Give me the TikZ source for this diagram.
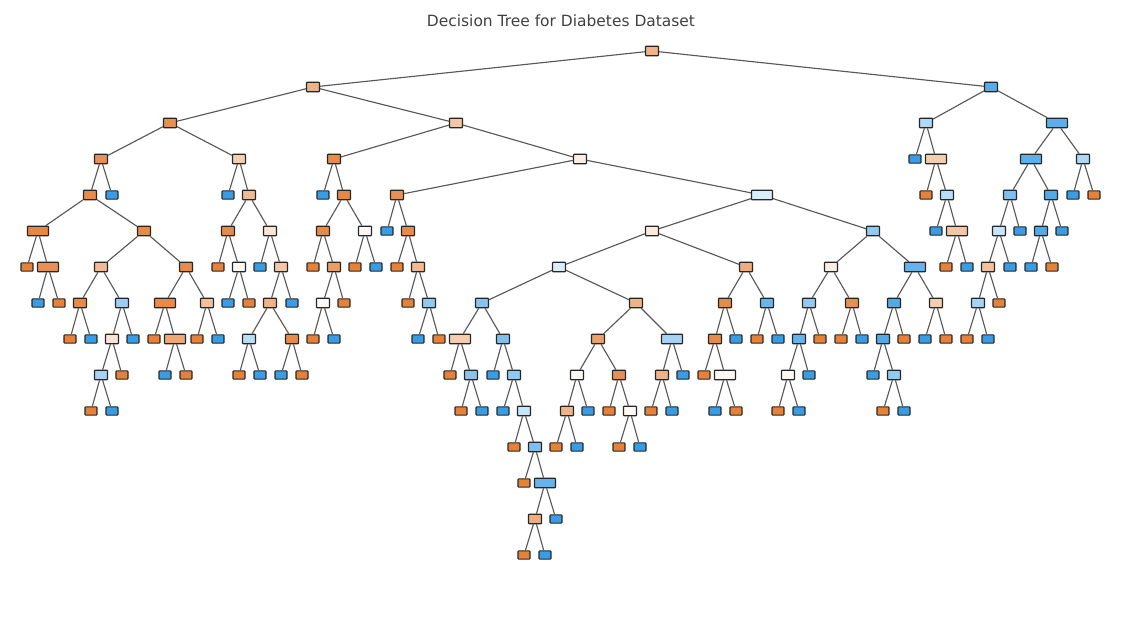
\documentclass[tikz,border=0pt]{standalone}
\usepackage{fontspec}
\usepackage{tikz}
\newfontfamily\titlefont{DejaVu Sans}
\definecolor{cls0}{HTML}{E58139}
\definecolor{cls1}{HTML}{399DE5}

\begin{document}
\begin{tikzpicture}[x=0.02cm, y=-0.02cm,
  box/.style={rectangle, draw=black!85, line width=0.65pt, rounded corners=0.4pt, inner sep=0pt, minimum width=7.4pt, minimum height=5.4pt},
  leafbox/.style={box, minimum width=6.8pt, minimum height=4.7pt},
  widebox/.style={box, minimum width=12pt},
  branch/.style={draw=black!65, line width=0.65pt}]
\useasboundingbox (0,0) rectangle (1134,640);
%\draw (0,0) rectangle (1134,640);

\node (title) [font=\titlefont\fontsize{8.8}{10}\selectfont, text=black!75] at (561,21) {Decision Tree for Diabetes Dataset};

% root and first split
\node (root) [box, fill=cls0!60] at (652,51) {};
\node (l) [box, fill=cls0!60] at (313,87) {};
\node (r) [box, fill=cls1!85] at (991,87) {};

% left part
\node (ll) [box, fill=cls0!88] at (170,123) {};
\node (lr) [box, fill=cls0!45] at (456,123) {};

\node (lll) [box, fill=cls0!88] at (101,159) {};
\node (llr) [box, fill=cls0!40] at (239,159) {};
\node (llll) [box, fill=cls0!92] at (90,195) {};
\node (lllr) [leafbox, fill=cls1] at (112,195) {};
\node (lllll) [widebox, fill=cls0!95] at (38,231) {};
\node (llllr) [box, fill=cls0!92] at (144,231) {};
\node (llllll) [leafbox, fill=cls0] at (27,267) {};
\node (lllllr) [widebox, fill=cls0!88] at (48,267) {};
\node (lllllrl) [leafbox, fill=cls1] at (38,303) {};
\node (lllllrr) [leafbox, fill=cls0] at (59,303) {};
\node (llllrl) [box, fill=cls0!55] at (101,267) {};
\node (llllrr) [box, fill=cls0!92] at (186,267) {};
\node (llllrll) [box, fill=cls0!92] at (80,303) {};
\node (llllrlr) [box, fill=cls1!50] at (122,303) {};
\node (llllrlll) [leafbox, fill=cls0] at (70,339) {};
\node (llllrllr) [leafbox, fill=cls1] at (91,339) {};
\node (llllrlrl) [box, fill=cls0!22] at (112,339) {};
\node (llllrlrr) [leafbox, fill=cls1] at (133,339) {};
\node (llllrlrll) [box, fill=cls1!45] at (101,375) {};
\node (llllrlrlr) [leafbox, fill=cls0] at (122,375) {};
\node (llllrlrlll) [leafbox, fill=cls0] at (91,411) {};
\node (llllrlrllr) [leafbox, fill=cls1] at (112,411) {};
\node (llllrrl) [widebox, fill=cls0!92] at (165,303) {};
\node (llllrrr) [box, fill=cls0!50] at (207,303) {};
\node (llllrrll) [leafbox, fill=cls0] at (154,339) {};
\node (llllrrlr) [widebox, fill=cls0!70] at (175,339) {};
\node (llllrrlrl) [leafbox, fill=cls1] at (165,375) {};
\node (llllrrlrr) [leafbox, fill=cls0] at (186,375) {};
\node (llllrrrl) [leafbox, fill=cls0] at (197,339) {};
\node (llllrrrr) [leafbox, fill=cls1] at (218,339) {};

\node (llrl) [leafbox, fill=cls1] at (228,195) {};
\node (llrr) [box, fill=cls0!55] at (249,195) {};
\node (llrrl) [box, fill=cls0!92] at (228,231) {};
\node (llrrr) [box, fill=cls0!22] at (270,231) {};
\node (llrrll) [leafbox, fill=cls0] at (218,267) {};
\node (llrrlr) [box, fill=cls0!5] at (239,267) {};
\node (llrrlrl) [leafbox, fill=cls1] at (228,303) {};
\node (llrrlrr) [leafbox, fill=cls0] at (249,303) {};
\node (llrrrl) [leafbox, fill=cls1] at (260,267) {};
\node (llrrrr) [box, fill=cls0!45] at (281,267) {};
\node (llrrrrl) [box, fill=cls0!60] at (270,303) {};
\node (llrrrrr) [leafbox, fill=cls1] at (292,303) {};
\node (llrrrrll) [box, fill=cls1!35] at (249,339) {};
\node (llrrrrlr) [box, fill=cls0!92] at (292,339) {};
\node (llrrrrlll) [leafbox, fill=cls0] at (239,375) {};
\node (llrrrrllr) [leafbox, fill=cls1] at (260,375) {};
\node (llrrrrlrl) [leafbox, fill=cls1] at (281,375) {};
\node (llrrrrlrr) [leafbox, fill=cls0] at (302,375) {};

\node (lrl) [box, fill=cls0!92] at (334,159) {};
\node (lrr) [box, fill=cls0!14] at (580,159) {};
\node (lrll) [leafbox, fill=cls1] at (323,195) {};
\node (lrlr) [box, fill=cls0!95] at (344,195) {};
\node (lrlrl) [box, fill=cls0!92] at (323,231) {};
\node (lrlrr) [box, fill=cls0!5] at (365,231) {};
\node (lrlrll) [leafbox, fill=cls0] at (313,267) {};
\node (lrlrlr) [box, fill=cls0!78] at (334,267) {};
\node (lrlrlrl) [box, fill=cls0!5] at (323,303) {};
\node (lrlrlrr) [leafbox, fill=cls0] at (344,303) {};
\node (lrlrlrll) [leafbox, fill=cls0] at (313,339) {};
\node (lrlrlrlr) [leafbox, fill=cls1] at (334,339) {};
\node (lrlrrl) [leafbox, fill=cls0] at (355,267) {};
\node (lrlrrr) [leafbox, fill=cls1] at (376,267) {};

\node (lrrl) [box, fill=cls0!88] at (397,195) {};
\node (lrrr) [widebox, fill=cls1!18] at (762,195) {};
\node (lrrll) [leafbox, fill=cls1] at (387,231) {};
\node (lrrlr) [box, fill=cls0!92] at (408,231) {};
\node (lrrlrl) [leafbox, fill=cls0] at (397,267) {};
\node (lrrlrr) [box, fill=cls0!55] at (418,267) {};
\node (lrrlrrl) [leafbox, fill=cls0] at (408,303) {};
\node (lrrlrrr) [box, fill=cls1!55] at (429,303) {};
\node (lrrlrrrl) [leafbox, fill=cls1] at (418,339) {};
\node (lrrlrrrr) [leafbox, fill=cls0] at (439,339) {};

% middle part
\node (lrrrl) [box, fill=cls0!17] at (652,231) {};
\node (lrrrr) [box, fill=cls1!55] at (873,231) {};
\node (lrrrll) [box, fill=cls1!18] at (559,267) {};
\node (lrrrlr) [box, fill=cls0!65] at (746,267) {};
\node (lrrrlll) [box, fill=cls1!60] at (482,303) {};
\node (lrrrllr) [box, fill=cls0!60] at (636,303) {};
\node (lrrrllll) [widebox, fill=cls0!40] at (460,339) {};
\node (lrrrlllr) [box, fill=cls1!65] at (503,339) {};
\node (lrrrlllll) [leafbox, fill=cls0] at (450,375) {};
\node (lrrrllllr) [box, fill=cls1!60] at (471,375) {};
\node (lrrrllllrl) [leafbox, fill=cls0] at (461,411) {};
\node (lrrrllllrr) [leafbox, fill=cls1] at (482,411) {};
\node (lrrrlllrl) [leafbox, fill=cls1] at (493,375) {};
\node (lrrrlllrr) [box, fill=cls1!55] at (514,375) {};
\node (lrrrlllrrl) [leafbox, fill=cls1] at (503,411) {};
\node (lrrrlllrrr) [box, fill=cls1!28] at (524,411) {};
\node (lrrrlllrrrl) [leafbox, fill=cls0] at (514,447) {};
\node (lrrrlllrrrr) [box, fill=cls1!65] at (535,447) {};
\node (lrrrlllrrrrl) [leafbox, fill=cls0] at (524,483) {};
\node (lrrrlllrrrrr) [widebox, fill=cls1!78] at (545,483) {};
\node (lrrrlllrrrrrl) [box, fill=cls0!65] at (535,519) {};
\node (lrrrlllrrrrrr) [leafbox, fill=cls1] at (556,519) {};
\node (lrrrlllrrrrrll) [leafbox, fill=cls0] at (524,555) {};
\node (lrrrlllrrrrrlr) [leafbox, fill=cls1] at (545,555) {};

\node (lrrrllrl) [box, fill=cls0!75] at (598,339) {};
\node (lrrrllrr) [widebox, fill=cls1!45] at (672,339) {};
\node (lrrrllrll) [box, fill=cls0!5] at (577,375) {};
\node (lrrrllrlr) [box, fill=cls0!88] at (619,375) {};
\node (lrrrllrlll) [box, fill=cls0!60] at (567,411) {};
\node (lrrrllrllr) [leafbox, fill=cls1] at (588,411) {};
\node (lrrrllrllll) [leafbox, fill=cls0] at (556,447) {};
\node (lrrrllrlllr) [leafbox, fill=cls1] at (577,447) {};
\node (lrrrllrlrl) [leafbox, fill=cls0] at (609,411) {};
\node (lrrrllrlrr) [box, fill=cls0!5] at (630,411) {};
\node (lrrrllrlrrl) [leafbox, fill=cls0] at (619,447) {};
\node (lrrrllrlrrr) [leafbox, fill=cls1] at (640,447) {};
\node (lrrrllrrl) [box, fill=cls0!60] at (662,375) {};
\node (lrrrllrrr) [leafbox, fill=cls1] at (683,375) {};
\node (lrrrllrrll) [leafbox, fill=cls0] at (651,411) {};
\node (lrrrllrrlr) [leafbox, fill=cls1] at (672,411) {};

\node (lrrrlrl) [box, fill=cls0!92] at (725,303) {};
\node (lrrrlrr) [box, fill=cls1!75] at (767,303) {};
\node (lrrrlrll) [box, fill=cls0!92] at (715,339) {};
\node (lrrrlrlr) [leafbox, fill=cls1] at (736,339) {};
\node (lrrrlrlll) [leafbox, fill=cls0] at (704,375) {};
\node (lrrrlrllr) [widebox, fill=cls0!5] at (725,375) {};
\node (lrrrlrllrl) [leafbox, fill=cls1] at (715,411) {};
\node (lrrrlrllrr) [leafbox, fill=cls0] at (736,411) {};
\node (lrrrlrrl) [leafbox, fill=cls0] at (757,339) {};
\node (lrrrlrrr) [leafbox, fill=cls1] at (778,339) {};

\node (lrrrrl) [box, fill=cls0!14] at (831,267) {};
\node (lrrrrr) [widebox, fill=cls1!78] at (915,267) {};
\node (lrrrrll) [box, fill=cls1!55] at (809,303) {};
\node (lrrrrlr) [box, fill=cls0!88] at (852,303) {};
\node (lrrrrlll) [box, fill=cls1!78] at (799,339) {};
\node (lrrrrllr) [leafbox, fill=cls0] at (820,339) {};
\node (lrrrrllll) [box, fill=cls0!5] at (788,375) {};
\node (lrrrrlllr) [leafbox, fill=cls1] at (809,375) {};
\node (lrrrrlllll) [leafbox, fill=cls0] at (778,411) {};
\node (lrrrrllllr) [leafbox, fill=cls1] at (799,411) {};
\node (lrrrrlrl) [leafbox, fill=cls0] at (841,339) {};
\node (lrrrrlrr) [leafbox, fill=cls1] at (862,339) {};
\node (lrrrrrl) [box, fill=cls1!88] at (894,303) {};
\node (lrrrrrr) [box, fill=cls0!40] at (936,303) {};
\node (lrrrrrll) [box, fill=cls1!88] at (883,339) {};
\node (lrrrrrlr) [leafbox, fill=cls0] at (904,339) {};
\node (lrrrrrlll) [leafbox, fill=cls1] at (873,375) {};
\node (lrrrrrllr) [box, fill=cls1!55] at (894,375) {};
\node (lrrrrrllrl) [leafbox, fill=cls0] at (883,411) {};
\node (lrrrrrllrr) [leafbox, fill=cls1] at (904,411) {};
\node (lrrrrrrl) [leafbox, fill=cls1] at (925,339) {};
\node (lrrrrrrr) [leafbox, fill=cls0] at (946,339) {};

% right part
\node (rl) [box, fill=cls1!40] at (926,123) {};
\node (rr) [widebox, fill=cls1!82] at (1057,123) {};
\node (rll) [leafbox, fill=cls1] at (915,159) {};
\node (rlr) [widebox, fill=cls0!40] at (936,159) {};
\node (rlrl) [leafbox, fill=cls0] at (926,195) {};
\node (rlrr) [box, fill=cls1!35] at (947,195) {};
\node (rlrrl) [leafbox, fill=cls1] at (936,231) {};
\node (rlrrr) [widebox, fill=cls0!45] at (957,231) {};
\node (rlrrrl) [leafbox, fill=cls0] at (946,267) {};
\node (rlrrrr) [leafbox, fill=cls1] at (967,267) {};
\node (rrl) [widebox, fill=cls1!82] at (1031,159) {};
\node (rrr) [box, fill=cls1!40] at (1083,159) {};
\node (rrll) [box, fill=cls1!65] at (1010,195) {};
\node (rrlr) [box, fill=cls1!88] at (1051,195) {};
\node (rrlll) [box, fill=cls1!28] at (999,231) {};
\node (rrllr) [leafbox, fill=cls1] at (1020,231) {};
\node (rrllll) [box, fill=cls0!50] at (988,267) {};
\node (rrlllr) [leafbox, fill=cls1] at (1010,267) {};
\node (rrlllll) [box, fill=cls1!45] at (978,303) {};
\node (rrllllr) [leafbox, fill=cls0] at (999,303) {};
\node (rrllllll) [leafbox, fill=cls0] at (967,339) {};
\node (rrlllllr) [leafbox, fill=cls1] at (988,339) {};
\node (rrlrl) [box, fill=cls1!88] at (1041,231) {};
\node (rrlrr) [leafbox, fill=cls1] at (1062,231) {};
\node (rrlrll) [leafbox, fill=cls1] at (1031,267) {};
\node (rrlrlr) [leafbox, fill=cls0] at (1052,267) {};
\node (rrrl) [leafbox, fill=cls1] at (1073,195) {};
\node (rrrr) [leafbox, fill=cls0] at (1094,195) {};

% branches
\foreach \p/\c in {root/l, root/r, l/ll, l/lr, ll/lll, ll/llr,
  lll/llll, lll/lllr, llll/lllll, llll/llllr, lllll/llllll, lllll/lllllr,
  lllllr/lllllrl, lllllr/lllllrr, llllr/llllrl, llllr/llllrr,
  llllrl/llllrll, llllrl/llllrlr, llllrll/llllrlll, llllrll/llllrllr,
  llllrlr/llllrlrl, llllrlr/llllrlrr, llllrlrl/llllrlrll, llllrlrl/llllrlrlr,
  llllrlrll/llllrlrlll, llllrlrll/llllrlrllr,
  llllrr/llllrrl, llllrr/llllrrr, llllrrl/llllrrll, llllrrl/llllrrlr,
  llllrrlr/llllrrlrl, llllrrlr/llllrrlrr, llllrrr/llllrrrl, llllrrr/llllrrrr,
  llr/llrl, llr/llrr, llrr/llrrl, llrr/llrrr, llrrl/llrrll, llrrl/llrrlr,
  llrrlr/llrrlrl, llrrlr/llrrlrr, llrrr/llrrrl, llrrr/llrrrr,
  llrrrr/llrrrrl, llrrrr/llrrrrr, llrrrrl/llrrrrll, llrrrrl/llrrrrlr,
  llrrrrll/llrrrrlll, llrrrrll/llrrrrllr, llrrrrlr/llrrrrlrl, llrrrrlr/llrrrrlrr,
  lr/lrl, lr/lrr, lrl/lrll, lrl/lrlr, lrlr/lrlrl, lrlr/lrlrr,
  lrlrl/lrlrll, lrlrl/lrlrlr, lrlrlr/lrlrlrl, lrlrlr/lrlrlrr,
  lrlrlrl/lrlrlrll, lrlrlrl/lrlrlrlr, lrlrr/lrlrrl, lrlrr/lrlrrr,
  lrr/lrrl, lrr/lrrr, lrrl/lrrll, lrrl/lrrlr, lrrlr/lrrlrl, lrrlr/lrrlrr,
  lrrlrr/lrrlrrl, lrrlrr/lrrlrrr, lrrlrrr/lrrlrrrl, lrrlrrr/lrrlrrrr,
  lrrr/lrrrl, lrrr/lrrrr, lrrrl/lrrrll, lrrrl/lrrrlr,
  lrrrll/lrrrlll, lrrrll/lrrrllr, lrrrlll/lrrrllll, lrrrlll/lrrrlllr,
  lrrrllll/lrrrlllll, lrrrllll/lrrrllllr, lrrrllllr/lrrrllllrl, lrrrllllr/lrrrllllrr,
  lrrrlllr/lrrrlllrl, lrrrlllr/lrrrlllrr, lrrrlllrr/lrrrlllrrl, lrrrlllrr/lrrrlllrrr,
  lrrrlllrrr/lrrrlllrrrl, lrrrlllrrr/lrrrlllrrrr,
  lrrrlllrrrr/lrrrlllrrrrl, lrrrlllrrrr/lrrrlllrrrrr,
  lrrrlllrrrrr/lrrrlllrrrrrl, lrrrlllrrrrr/lrrrlllrrrrrr,
  lrrrlllrrrrrl/lrrrlllrrrrrll, lrrrlllrrrrrl/lrrrlllrrrrrlr,
  lrrrllr/lrrrllrl, lrrrllr/lrrrllrr, lrrrllrl/lrrrllrll, lrrrllrl/lrrrllrlr,
  lrrrllrll/lrrrllrlll, lrrrllrll/lrrrllrllr, lrrrllrlll/lrrrllrllll, lrrrllrlll/lrrrllrlllr,
  lrrrllrlr/lrrrllrlrl, lrrrllrlr/lrrrllrlrr, lrrrllrlrr/lrrrllrlrrl, lrrrllrlrr/lrrrllrlrrr,
  lrrrllrr/lrrrllrrl, lrrrllrr/lrrrllrrr, lrrrllrrl/lrrrllrrll, lrrrllrrl/lrrrllrrlr,
  lrrrlr/lrrrlrl, lrrrlr/lrrrlrr, lrrrlrl/lrrrlrll, lrrrlrl/lrrrlrlr,
  lrrrlrll/lrrrlrlll, lrrrlrll/lrrrlrllr, lrrrlrllr/lrrrlrllrl, lrrrlrllr/lrrrlrllrr,
  lrrrlrr/lrrrlrrl, lrrrlrr/lrrrlrrr,
  lrrrr/lrrrrl, lrrrr/lrrrrr, lrrrrl/lrrrrll, lrrrrl/lrrrrlr,
  lrrrrll/lrrrrlll, lrrrrll/lrrrrllr, lrrrrlll/lrrrrllll, lrrrrlll/lrrrrlllr,
  lrrrrllll/lrrrrlllll, lrrrrllll/lrrrrllllr, lrrrrlr/lrrrrlrl, lrrrrlr/lrrrrlrr,
  lrrrrr/lrrrrrl, lrrrrr/lrrrrrr, lrrrrrl/lrrrrrll, lrrrrrl/lrrrrrlr,
  lrrrrrll/lrrrrrlll, lrrrrrll/lrrrrrllr, lrrrrrllr/lrrrrrllrl, lrrrrrllr/lrrrrrllrr,
  lrrrrrr/lrrrrrrl, lrrrrrr/lrrrrrrr,
  r/rl, r/rr, rl/rll, rl/rlr, rlr/rlrl, rlr/rlrr, rlrr/rlrrl, rlrr/rlrrr,
  rlrrr/rlrrrl, rlrrr/rlrrrr, rr/rrl, rr/rrr, rrl/rrll, rrl/rrlr,
  rrll/rrlll, rrll/rrllr, rrlll/rrllll, rrlll/rrlllr, rrllll/rrlllll, rrllll/rrllllr,
  rrlllll/rrllllll, rrlllll/rrlllllr, rrlr/rrlrl, rrlr/rrlrr,
  rrlrl/rrlrll, rrlrl/rrlrlr, rrr/rrrl, rrr/rrrr}
  \draw [branch] (\p) -- (\c);

\end{tikzpicture}
\end{document}
